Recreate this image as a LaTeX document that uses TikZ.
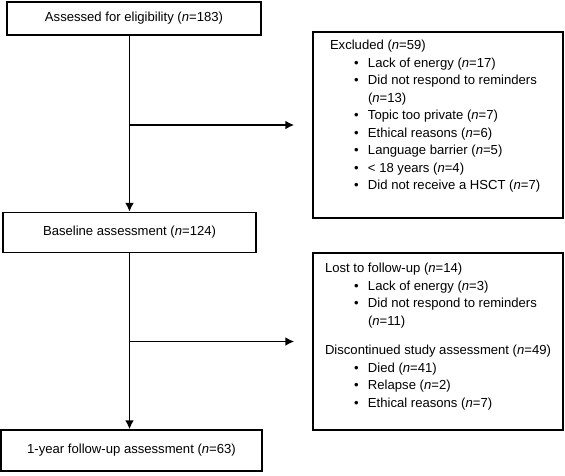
\documentclass[tikz,border=0pt]{standalone}
\usepackage{fontspec}
\setmainfont{Liberation Sans}
\usetikzlibrary{arrows.meta}
\newcommand{\nn}{\textit{n}}
\newcommand{\itm}[1]{\makebox[43pt][l]{\hspace*{29pt}\textbullet}#1}
\newcommand{\cnt}[1]{\hspace*{43pt}#1}

\begin{document}
\begin{tikzpicture}[x=1pt,y=-1pt,
  box/.style={draw, line width=1.5pt, inner sep=0pt, font=\fontsize{13.1}{17.5}\selectfont},
  arr/.style={line width=1.9pt, -{Latex[length=9pt,width=9pt]}}]
\useasboundingbox (0,0) rectangle (565,475);

% main column
\node [box, minimum width=254pt, minimum height=33pt] (assessed) at (134,18.5) {Assessed for eligibility (\nn=183)};
\node [box, minimum width=253pt, minimum height=40pt] (baseline) at (129.5,232.5) {Baseline assessment (\nn=124)};
\node [box, minimum width=261pt, minimum height=41pt] (followup) at (131.5,450.5) {1-year follow-up assessment (\nn=63)};

% side boxes
\node [box, inner xsep=12pt] (excluded) at (438,125) {\parbox[c][186pt][t]{226pt}{\vspace*{5.25pt}\strut\hspace*{5pt}Excluded (\nn=59)\\
  \itm{Lack of energy (\nn=17)}\\
  \itm{Did not respond to reminders}\\
  \cnt{(\nn=13)}\\
  \itm{Topic too private (\nn=7)}\\
  \itm{Ethical reasons (\nn=6)}\\
  \itm{Language barrier (\nn=5)}\\
  \itm{< 18 years (\nn=4)}\\
  \itm{Did not receive a HSCT (\nn=7)}}};
\node [box, inner xsep=12pt] (lost) at (438,341.5) {\parbox[c][177pt][t]{226pt}{\vspace*{7.25pt}\strut Lost to follow-up (\nn=14)\\
  \itm{Lack of energy (\nn=3)}\\
  \itm{Did not respond to reminders}\\
  \cnt{(\nn=11)}\\[12pt]
  Discontinued study assessment (\nn=49)\\
  \itm{Died (\nn=41)}\\
  \itm{Relapse (\nn=2)}\\
  \itm{Ethical reasons (\nn=7)}}};

% arrows
\draw [arr] (baseline.north |- assessed.south) -- (baseline.north);
\draw [arr, shorten >=18pt] (baseline.north |- excluded.west) -- (excluded.west);
\draw [arr] (baseline.south) -- (baseline.south |- followup.north);
\draw [arr, shorten >=18pt] (baseline.south |- lost.west) -- (lost.west);
\end{tikzpicture}
\end{document}
